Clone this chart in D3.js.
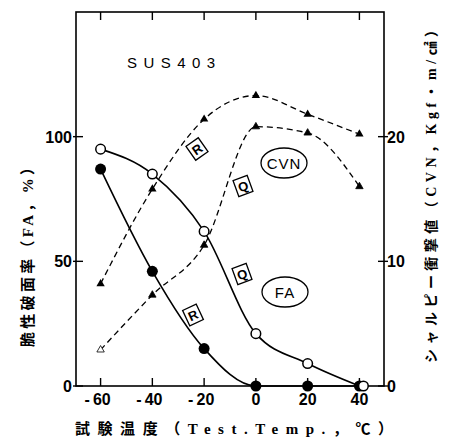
<!DOCTYPE html>
<html>
<head>
<meta charset="utf-8">
<script src="https://cdn.jsdelivr.net/npm/d3@7"></script>
<style>
  body { margin: 0; background: #fff; }
  svg { display: block; }
  .tick-label { font-family: "Liberation Sans", Arial, sans-serif; font-weight: bold; font-size: 16px; }
</style>
</head>
<body>
<svg id="chart-area"></svg>
<script>
// data
const temps = [-60, -40, -20, 0, 20, 40]
const faQ = [95, 85, 62, 21, 9, 0]        // open circles
const faR = [87, 46, 15, 0, 0, 0]         // filled circles
const cvnR = [8.2, 15.8, 21.4, 23.3, 21.8, 20.2]  // upper dashed
const cvnQ = [2.9, 7.3, 11.3, 20.8, 20.3, 16.0]   // lower dashed
const xTicks = [-60, -40, -20, 0, 20, 40]
const faTicks = [0, 50, 100]
const cvnTicks = [0, 10, 20]

const width = 469
const height = 437
const margin = { left: 76, right: 85, top: 12, bottom: 51 }

const svg = d3.select("#chart-area")
    .attr("width", width)
    .attr("height", height)

const x = d3.scaleLinear().domain([-69.5, 49.5]).range([margin.left, width - margin.right])
const y = d3.scaleLinear().domain([0, 150]).range([height - margin.bottom, margin.top])
const y2 = d3.scaleLinear().domain([0, 30]).range([height - margin.bottom, margin.top])

const x0 = margin.left, x1 = width - margin.right
const yb = height - margin.bottom, yt = margin.top

// frame
svg.append("rect")
    .attr("x", x0).attr("y", yt)
    .attr("width", x1 - x0).attr("height", yb - yt)
    .attr("fill", "none").attr("stroke", "#000").attr("stroke-width", 1.6)

// ticks
svg.selectAll(".xt").data(xTicks).enter().append("line")
    .attr("x1", d => x(d)).attr("x2", d => x(d))
    .attr("y1", yb).attr("y2", yb - 8)
    .attr("stroke", "#000").attr("stroke-width", 1.4)
svg.selectAll(".xtt").data(xTicks).enter().append("line")
    .attr("x1", d => x(d)).attr("x2", d => x(d))
    .attr("y1", yt).attr("y2", yt + 8)
    .attr("stroke", "#000").attr("stroke-width", 1.4)
svg.selectAll(".ylt").data(faTicks).enter().append("line")
    .attr("x1", x0 - 3).attr("x2", x0 + 7)
    .attr("y1", d => y(d)).attr("y2", d => y(d))
    .attr("stroke", "#000").attr("stroke-width", 1.4)
svg.selectAll(".yrt").data(cvnTicks).enter().append("line")
    .attr("x1", x1 - 6).attr("x2", x1 + 4)
    .attr("y1", d => y2(d)).attr("y2", d => y2(d))
    .attr("stroke", "#000").attr("stroke-width", 1.4)

// tick labels
svg.selectAll(".xl").data(xTicks).enter().append("text")
    .attr("class", "tick-label")
    .attr("x", d => x(d) - (d < 0 ? 3 : 0)).attr("y", yb + 19)
    .attr("text-anchor", "middle")
    .text(d => d < 0 ? "-\u2009" + Math.abs(d) : d)
svg.selectAll(".yl").data(faTicks).enter().append("text")
    .attr("class", "tick-label")
    .attr("x", x0 - 4).attr("y", d => y(d) + 6)
    .attr("text-anchor", "end")
    .text(d => d)
svg.selectAll(".yr").data(cvnTicks).enter().append("text")
    .attr("class", "tick-label")
    .attr("x", x1 + 3).attr("y", d => y2(d) + 6)
    .text(d => d)

// lines
const faLine = d3.line().x((d, i) => x(temps[i])).y(d => y(d)).curve(d3.curveMonotoneX)
const cvnLine = d3.line().x((d, i) => x(temps[i])).y(d => y2(d)).curve(d3.curveMonotoneX)

svg.append("path").attr("d", cvnLine(cvnR))
    .attr("fill", "none").attr("stroke", "#000").attr("stroke-width", 1.3).attr("stroke-dasharray", "6,4")
svg.append("path").attr("d", cvnLine(cvnQ))
    .attr("fill", "none").attr("stroke", "#000").attr("stroke-width", 1.3).attr("stroke-dasharray", "6,4")
svg.append("path").attr("d", faLine(faR))
    .attr("fill", "none").attr("stroke", "#000").attr("stroke-width", 1.6)
svg.append("path").attr("d", faLine(faQ))
    .attr("fill", "none").attr("stroke", "#000").attr("stroke-width", 1.6)

// markers
const tri = d3.symbol().type(d3.symbolTriangle)
svg.selectAll(".tr").data(cvnR).enter().append("path")
    .attr("d", tri.size(30)())
    .attr("transform", (d, i) => `translate(${x(temps[i])},${y2(d)})`)
    .attr("fill", "#000")
svg.selectAll(".tq").data(cvnQ).enter().append("path")
    .attr("d", tri.size(24)())
    .attr("transform", (d, i) => `translate(${x(temps[i])},${y2(d)})`)
    .attr("fill", (d, i) => i == 0 ? "#fff" : "#000")
    .attr("stroke", "#000").attr("stroke-width", 0.8)

svg.selectAll(".cr").data(faR).enter().append("circle")
    .attr("cx", (d, i) => x(temps[i])).attr("cy", d => y(d))
    .attr("r", 5.5).attr("fill", "#000")
svg.selectAll(".cq").data(faQ).enter().append("circle")
    .attr("cx", (d, i) => x(temps[i]) + (i == 5 ? 4 : 0)).attr("cy", d => y(d))
    .attr("r", 4.8).attr("fill", "#fff").attr("stroke", "#000").attr("stroke-width", 1.5)

// annotations
svg.append("text")
    .attr("x", 127).attr("y", 68)
    .attr("font-family", "Liberation Sans, Arial, sans-serif")
    .attr("font-size", 15)
    .attr("textLength", 88).attr("lengthAdjust", "spacing")
    .text("SUS403")

function boxLabel(cx, cy, angle, letter) {
    const g = svg.append("g").attr("transform", `translate(${cx},${cy}) rotate(${angle})`)
    g.append("rect").attr("x", -7.5).attr("y", -8.5).attr("width", 15).attr("height", 17)
        .attr("fill", "#fff").attr("stroke", "#000").attr("stroke-width", 1.3)
    g.append("text").attr("x", 0).attr("y", 5)
        .attr("text-anchor", "middle")
        .attr("font-family", "Liberation Sans, Arial, sans-serif")
        .attr("font-size", 13).attr("font-weight", "bold")
        .text(letter)
}
boxLabel(197, 149, -35, "R")
boxLabel(243, 186, -20, "Q")
boxLabel(242, 274, -20, "Q")
boxLabel(193, 315, -25, "R")

function ellipseLabel(cx, cy, txt) {
    svg.append("ellipse").attr("cx", cx).attr("cy", cy).attr("rx", 23).attr("ry", 15)
        .attr("fill", "#fff").attr("stroke", "#000").attr("stroke-width", 1.3)
    svg.append("text").attr("x", cx).attr("y", cy + 5.5)
        .attr("text-anchor", "middle")
        .attr("font-family", "Liberation Sans, Arial, sans-serif")
        .attr("font-size", 15)
        .attr("letter-spacing", 1)
        .text(txt)
}
ellipseLabel(284, 163, "CVN")
ellipseLabel(285, 292, "FA")

// axis titles
svg.append("text")
    .attr("x", 75).attr("y", 434)
    .attr("font-family", "Liberation Serif, Noto Sans CJK JP, serif")
    .attr("font-size", 15).attr("font-weight", "bold")
    .attr("textLength", 318).attr("lengthAdjust", "spacing")
    .text("試験温度（Test.Temp.，℃）")

svg.append("text")
    .attr("transform", "translate(33,347) rotate(-90)")
    .attr("font-family", "Liberation Serif, Noto Sans CJK JP, serif")
    .attr("font-size", 15).attr("font-weight", "bold")
    .attr("textLength", 187).attr("lengthAdjust", "spacing")
    .text("脆性破面率（FA，%）")

svg.append("text")
    .attr("transform", "translate(436,363) rotate(-90)")
    .attr("font-family", "Liberation Serif, Noto Sans CJK JP, serif")
    .attr("font-size", 14).attr("font-weight", "bold")
    .attr("textLength", 340).attr("lengthAdjust", "spacing")
    .text("シャルピー衝撃値（CVN，Kgf・m/㎠）")
</script>
</body>
</html>
